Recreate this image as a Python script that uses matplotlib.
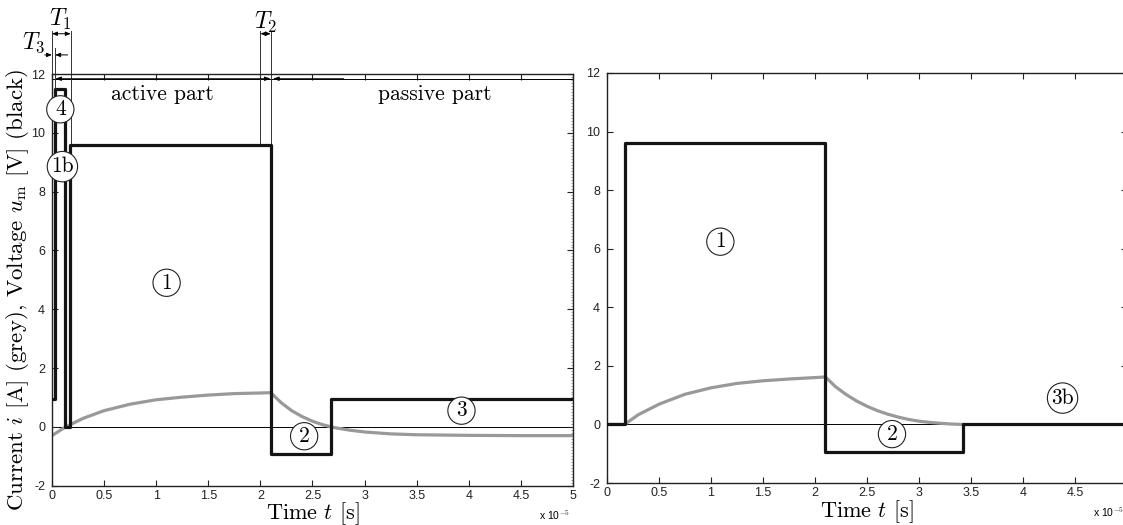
import numpy as np
import matplotlib.pyplot as plt
from matplotlib.ticker import MultipleLocator

plt.rcParams['mathtext.fontset'] = 'cm'
plt.rcParams['axes.unicode_minus'] = False

# switching instants [1e-5 s] and voltage levels [V] (steps-post)
t_sw_a = [0, 0.03, 0.125, 0.17, 2.1, 2.68, 5.0]
u_a = [0.95, 11.5, 0, 9.6, -0.93, 0.95, 0.95]
t_sw_b = [0, 0.17, 2.1, 3.42, 5.0]
u_b = [0, 9.6, -0.95, 0, 0]

# coil current [A]
t_i_a = [0, 0.1, 0.15, 0.3, 0.5, 0.75, 1.0, 1.25, 1.5, 1.75, 2.1,
         2.2, 2.3, 2.4, 2.5, 2.6, 2.7, 2.85, 3.0, 3.25, 3.5, 4.0, 4.5, 5.0]
i_a = [-0.3, -0.07, 0.03, 0.29, 0.55, 0.77, 0.92, 1.01, 1.08, 1.13, 1.16,
       0.82, 0.55, 0.35, 0.19, 0.07, -0.02, -0.11, -0.175, -0.24, -0.27, -0.29, -0.3, -0.3]
t_i_b = [0, 0.17, 0.3, 0.5, 0.75, 1.0, 1.25, 1.5, 1.75, 2.1,
         2.2, 2.3, 2.4, 2.5, 2.6, 2.7, 2.8, 2.9, 3.0, 3.1, 3.2, 3.3, 3.42]
i_b = [0, 0, 0.33, 0.69, 1.03, 1.25, 1.4, 1.49, 1.55, 1.62,
       1.28, 1.02, 0.8, 0.62, 0.47, 0.35, 0.25, 0.17, 0.11, 0.07, 0.04, 0.015, 0]

xticks = [0, 0.5, 1, 1.5, 2, 2.5, 3, 3.5, 4, 4.5, 5]
xlabels = ['0', '0.5', '1', '1.5', '2', '2.5', '3', '3.5', '4', '4.5', '5']
yticks = [-2, 0, 2, 4, 6, 8, 10, 12]

fig = plt.figure(figsize=(11.23, 5.25), dpi=100)
ax1 = fig.add_axes([0.0463, 0.075, 0.4639, 0.784])
ax2 = fig.add_axes([0.5405, 0.080, 0.4631, 0.781])

grey = '#999999'
volt = '#141414'
serif = 'cmr10'

for ax, ts, us, ti, ii in [(ax1, t_sw_a, u_a, t_i_a, i_a), (ax2, t_sw_b, u_b, t_i_b, i_b)]:
    ax.axhline(0, color='k', lw=0.7, zorder=1)
    ax.plot(ti, ii, color=grey, lw=2.3, zorder=2)
    ax.plot(ts, us, color=volt, lw=2.3, drawstyle='steps-post', zorder=3)
    ax.set_xlim(0, 5)
    ax.set_ylim(-2, 12)
    ax.set_xticks(xticks)
    ax.set_xticklabels(xlabels)
    ax.set_yticks(yticks)
    ax.tick_params(direction='in', top=True, right=True, length=4, width=0.8,
                   labelsize=9, colors='#222222', pad=5)
    ax.tick_params(axis='x', pad=3)
    for lab in ax.get_xticklabels() + ax.get_yticklabels():
        lab.set_family('Liberation Sans')
    for s in ax.spines.values():
        s.set_linewidth(1.0)
        s.set_color('#222222')
    ax.set_xlabel(r'Time $t$ [s]', family=serif, fontsize=16, labelpad=-1)
    ax.text(0.995, -0.083, r'x 10$^{-5}$', transform=ax.transAxes, ha='right',
            va='baseline', family='Liberation Sans', fontsize=7.5)

ax2.set_xticklabels(xlabels[:-1] + [''])

# dense minor ticks on the right edge of the left panel
ax1.yaxis.set_minor_locator(MultipleLocator(0.1))
ax1.tick_params(which='minor', direction='in', left=False, right=True, length=1.5,
                width=0.5, colors='#777777')

ax1.set_ylabel(r'Current $i$ [A] (grey), Voltage $u_\mathrm{m}$ [V] (black)',
               family=serif, fontsize=16.5)
ax1.yaxis.set_label_coords(-0.04, 0.475)

circ = dict(boxstyle='circle,pad=0.18', fc='white', ec='#222222', lw=0.8)
def tag(ax, x, y, s):
    ax.text(x, y, s, family=serif, fontsize=15.5, ha='center', va='center',
            bbox=circ, zorder=5)

tag(ax1, 0.08, 10.8, '4')
tag(ax1, 0.1, 8.85, '1b')
tag(ax1, 1.1, 4.9, '1')
tag(ax1, 2.42, -0.32, '2')
tag(ax1, 3.93, 0.55, '3')
tag(ax2, 1.09, 6.24, '1')
tag(ax2, 2.74, -0.33, '2')
tag(ax2, 4.38, 0.9, '3b')

# phase arrows below the top edge
yarr = 11.84
ax1.plot([0, 5], [yarr, yarr], color='k', lw=0.7, clip_on=False)
ax1.annotate('', xy=(0.03, yarr), xytext=(2.1, yarr), annotation_clip=False,
             arrowprops=dict(arrowstyle='<|-|>,head_length=0.35,head_width=0.12',
                             color='k', lw=0.7, shrinkA=0, shrinkB=0))
ax1.annotate('', xy=(2.12, yarr), xytext=(2.8, yarr), annotation_clip=False,
             arrowprops=dict(arrowstyle='-|>,head_length=0.35,head_width=0.12',
                             color='k', lw=0.7, shrinkA=0, shrinkB=0))
ax1.text(1.06, 11.32, 'active part', family=serif, fontsize=15.5, ha='center', va='center')
ax1.text(3.67, 11.32, 'passive part', family=serif, fontsize=15.5, ha='center', va='center')

# timing dimension lines T1, T2, T3
lc = dict(color='#333333', lw=0.7, clip_on=False)
ax1.plot([0, 0], [12, 13.45], **lc)
ax1.plot([0.18, 0.18], [0, 13.45], **lc)
ax1.plot([0.03, 0.03], [0.95, 12.9], **lc)
ax1.plot([2.0, 2.0], [9.6, 13.45], **lc)
ax1.plot([2.1, 2.1], [9.6, 13.45], **lc)

dim = dict(arrowstyle='<|-|>,head_length=0.3,head_width=0.12', color='k', lw=0.7,
           shrinkA=0, shrinkB=0)
one = dict(arrowstyle='-|>,head_length=0.3,head_width=0.12', color='k', lw=0.7,
           shrinkA=0, shrinkB=0)
ax1.annotate('', xy=(0, 13.37), xytext=(0.18, 13.37), annotation_clip=False, arrowprops=dict(dim))
ax1.annotate('', xy=(2.0, 13.37), xytext=(2.1, 13.37), annotation_clip=False, arrowprops=dict(dim))
ax1.annotate('', xy=(0, 12.65), xytext=(-0.07, 12.65), annotation_clip=False, arrowprops=dict(one))
ax1.annotate('', xy=(0.03, 12.65), xytext=(0.15, 12.65), annotation_clip=False, arrowprops=dict(one))

ax1.text(0.08, 13.85, r'$T_1$', fontsize=17, ha='center', va='center', clip_on=False)
ax1.text(-0.18, 13.05, r'$T_3$', fontsize=17, ha='center', va='center', clip_on=False)
ax1.text(2.05, 13.75, r'$T_2$', fontsize=17, ha='center', va='center', clip_on=False)

fig.savefig('out.png', dpi=100)
